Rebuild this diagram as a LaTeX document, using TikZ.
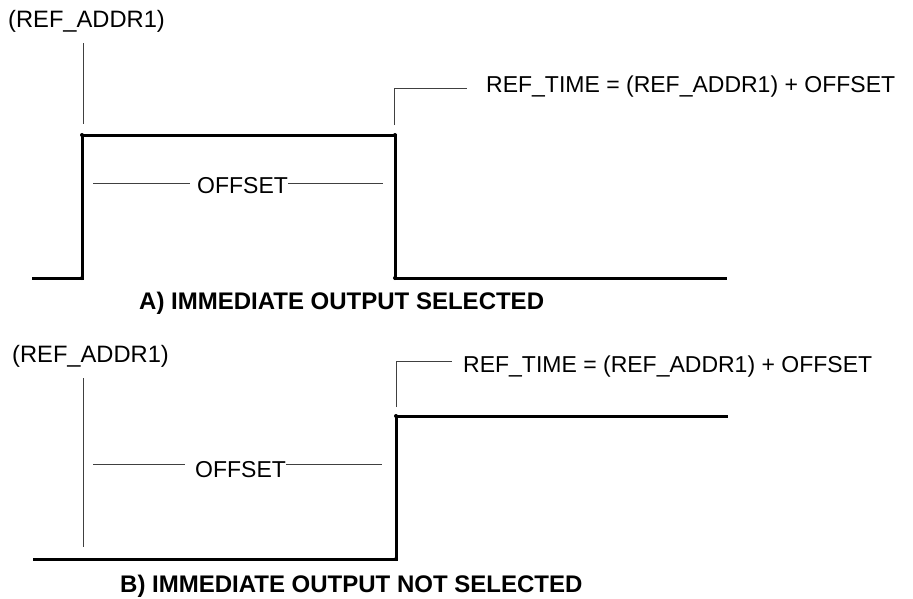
\documentclass[tikz,border=0pt]{standalone}
\usepackage{fontspec}
\setmainfont{Liberation Sans}
\begin{document}
\begin{tikzpicture}[x=1pt,y=-1pt,
  lbl/.style={anchor=base west,inner sep=0pt,font=\fontsize{23}{27}\selectfont},
  addrlbl/.style={anchor=base west,inner sep=0pt,font=\fontsize{23.7}{27}\selectfont},
  captionlbl/.style={anchor=base west,inner sep=0pt,font=\fontsize{24}{28}\selectfont\bfseries},
  sig/.style={line width=3pt},
  thinline/.style={line width=1pt,black!75},
  corner/.style={fill=black,inner sep=0pt,minimum size=4pt,circle}]
\useasboundingbox (0,0) rectangle (913,598);
% ---------- A ----------
\node[addrlbl] (refA) at (8,27) {(REF\_ADDR1)};
\coordinate (refAtop) at (83,43);
\coordinate (refAbot) at (83,124);
\draw[thinline] (refAtop) -- (refAbot);
\coordinate (a0) at (32,278);
\coordinate (a1) at (82,278);
\coordinate (a2) at (82,135);
\coordinate (a3) at (395,135);
\coordinate (a4) at (395,278);
\coordinate (a5) at (727,278);
\draw[sig] (a0) -- (a1) -- (a2) -- (a3) -- (a4) -- (a5);
\foreach \c in {a1,a2,a3,a4} \node[corner] at (\c) {};
\node[lbl] (timeA) at (486,92) {REF\_TIME = (REF\_ADDR1) + OFFSET};
\coordinate (brA1) at (394,125);
\coordinate (brA2) at (394,88);
\coordinate (brA3) at (467,88);
\draw[thinline] (brA1) -- (brA2) -- (brA3);
\node[lbl] (offA) at (197,193) {OFFSET};
\coordinate (offAl) at (93,183);
\coordinate (offAr) at (383,183);
\draw[thinline] (offAl) -- (190,183);
\draw[thinline] (offA.east |- offAr) -- (offAr);
\node[captionlbl] (capA) at (139,309) {A) IMMEDIATE OUTPUT SELECTED};
% ---------- B ----------
\node[addrlbl] (refB) at (12,362) {(REF\_ADDR1)};
\coordinate (refBtop) at (83,378);
\coordinate (refBbot) at (83,547);
\draw[thinline] (refBtop) -- (refBbot);
\coordinate (b0) at (33,559);
\coordinate (b1) at (396,559);
\coordinate (b2) at (396,416);
\coordinate (b3) at (728,416);
\draw[sig] (b0) -- (b1) -- (b2) -- (b3);
\foreach \c in {b1,b2} \node[corner] at (\c) {};
\node[lbl] (timeB) at (463,372) {REF\_TIME = (REF\_ADDR1) + OFFSET};
\coordinate (brB1) at (396,407);
\coordinate (brB2) at (396,361);
\coordinate (brB3) at (452,361);
\draw[thinline] (brB1) -- (brB2) -- (brB3);
\node[lbl] (offB) at (195,477) {OFFSET};
\coordinate (offBl) at (93,464);
\coordinate (offBr) at (382,464);
\draw[thinline] (offBl) -- (185,464);
\draw[thinline] (offB.east |- offBr) -- (offBr);
\node[captionlbl] (capB) at (120,592) {B) IMMEDIATE OUTPUT NOT SELECTED};
\end{tikzpicture}
\end{document}
